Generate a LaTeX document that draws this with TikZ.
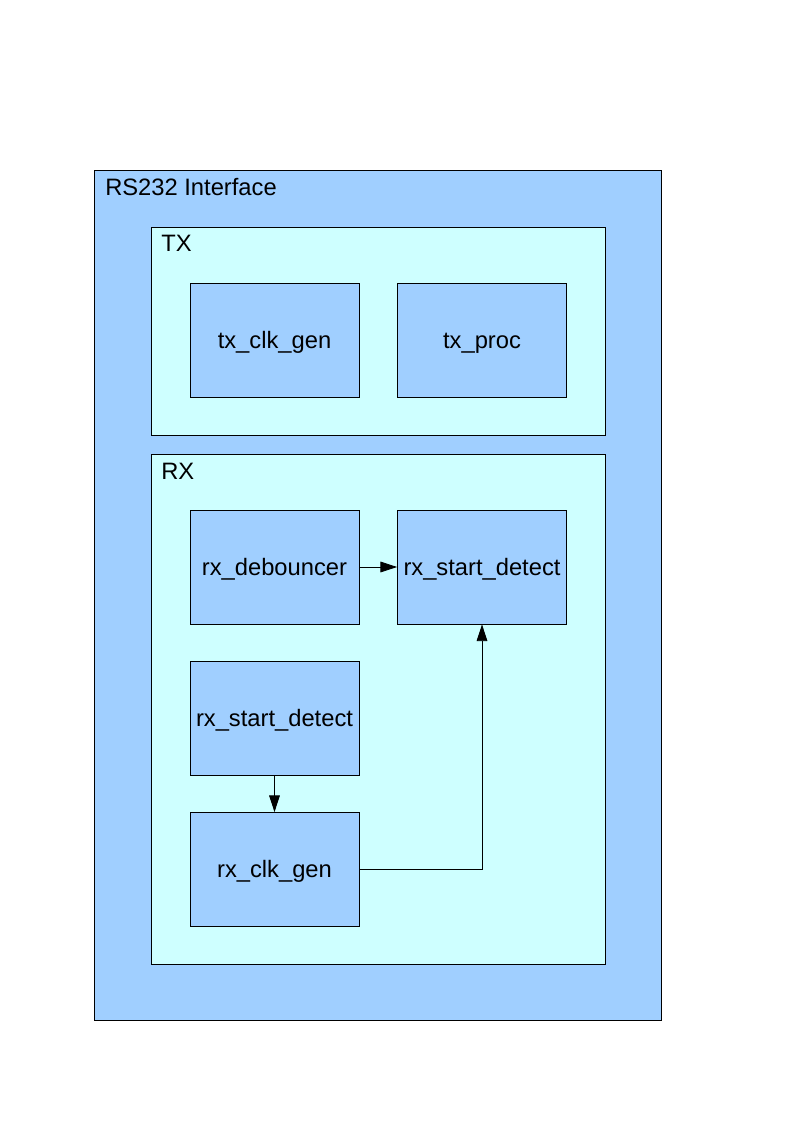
\documentclass[tikz,border=0pt]{standalone}
\usepackage{fontspec}
\setmainfont{Liberation Sans}
\usepackage{xcolor}
\usetikzlibrary{arrows.meta,positioning,calc}

\definecolor{blockblue}{RGB}{160,207,255}
\definecolor{groupcyan}{RGB}{206,255,255}

\begin{document}
\begin{tikzpicture}[x=0.75pt, y=-0.75pt,
    outer/.style={draw, fill=blockblue, line width=0.6pt, minimum width=425.25pt, minimum height=637.5pt, inner sep=0pt},
    group/.style={draw, fill=groupcyan, line width=0.6pt, minimum width=340.5pt, inner sep=0pt},
    block/.style={draw, fill=blockblue, line width=0.6pt, minimum width=126.75pt, minimum height=85.5pt, inner sep=0pt, text height=13pt, text depth=1pt, font=\fontsize{17.8}{20}\selectfont},
    title/.style={anchor=base west, inner sep=0pt, font=\fontsize{17.8}{20}\selectfont},
    arrow/.style={-{Triangle[length=12.5pt, width=8pt]}, line width=0.6pt}
]
\useasboundingbox (0,0) rectangle (794,1123);

% Frames
\node[outer] (rs232) at (377.5,595) {};
\node[title] (rs232label) at (105,196) {RS232 Interface};
\node[group, minimum height=156pt] (tx) at (378,331) {};
\node[title] (txlabel) at (161,252) {TX};
\node[group, minimum height=382.5pt] (rx) at (378,709) {};
\node[title] (rxlabel) at (161,479) {RX};

% TX blocks
\node[block] (txclkgen) at (274.5,340) {tx\_clk\_gen};
\node[block] (txproc) at (482,340) {tx\_proc};

% RX blocks
\node[block] (rxdebouncer) at (274.5,567) {rx\_debouncer};
\node[block] (rxstartdetect) at (482,567) {rx\_start\_detect};
\node[block] (rxstartdetectb) at (274.5,718) {rx\_start\_detect};
\node[block] (rxclkgen) at (274.5,869.5) {rx\_clk\_gen};

% Connections
\draw[arrow] (rxdebouncer) -- (rxstartdetect);
\draw[arrow] (rxstartdetectb) -- (rxclkgen);
\draw[arrow] (rxclkgen.east) -| (rxstartdetect.south);

\end{tikzpicture}
\end{document}
